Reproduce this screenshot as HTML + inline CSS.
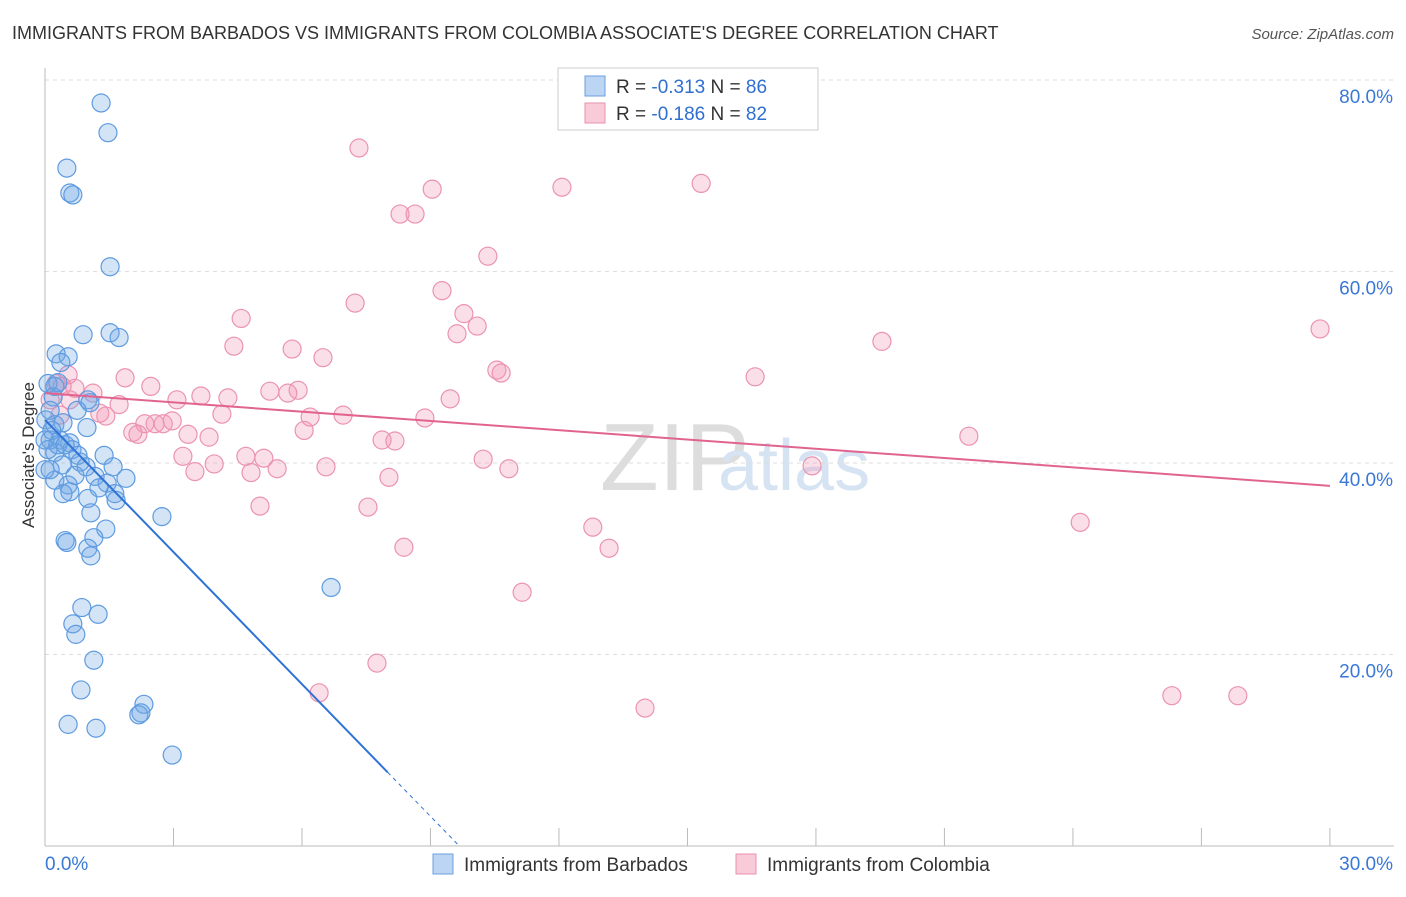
<!DOCTYPE html>
<html><head><meta charset="utf-8"><style>
body{margin:0;background:#fff;font-family:"Liberation Sans",sans-serif}
svg text{font-family:"Liberation Sans",sans-serif}
</style></head><body>
<svg id="c" width="1406" height="892">
<text x="12" y="39" font-size="18" fill="#333">IMMIGRANTS FROM BARBADOS VS IMMIGRANTS FROM COLOMBIA ASSOCIATE'S DEGREE CORRELATION CHART</text>
<text x="1394" y="39" font-size="15" fill="#555" text-anchor="end" font-style="italic">Source: ZipAtlas.com</text>
<text x="600" y="490" font-size="96" fill="#ddd" font-family="Liberation Serif">ZIP</text>
<text x="718" y="490" font-size="72" fill="#d6e3f3">atlas</text>
<text x="34" y="455" font-size="17" fill="#333" text-anchor="middle" transform="rotate(-90 34 455)">Associate's Degree</text>
<g id="grid"></g><g id="pts"></g><g id="lines"></g>
<g>
<rect x="558" y="68" width="260" height="62" fill="#fff" stroke="#ccc"/>
<rect x="585" y="76" width="20" height="20" fill="#bcd5f3" stroke="#6a9fe0"/>
<rect x="585" y="103" width="20" height="20" fill="#f9cbd8" stroke="#e890ac"/>
<text x="616" y="93" font-size="19" fill="#333">R = <tspan fill="#2f6fd0">-0.313</tspan>   N = <tspan fill="#2f6fd0">86</tspan></text>
<text x="616" y="120" font-size="19" fill="#333">R = <tspan fill="#2f6fd0">-0.186</tspan>   N = <tspan fill="#2f6fd0">82</tspan></text>
</g>
<g>
<rect x="433" y="854" width="20" height="20" fill="#bcd5f3" stroke="#6a9fe0"/>
<text x="464" y="871" font-size="19" fill="#333">Immigrants from Barbados</text>
<rect x="736" y="854" width="20" height="20" fill="#f9cbd8" stroke="#e890ac"/>
<text x="767" y="871" font-size="19" fill="#333">Immigrants from Colombia</text>
</g>
</svg>
<script>
const blueX=[1.31,1.47,0.51,0.58,0.65,1.52,0.89,1.52,1.73,0.26,0.54,0.37,0.07,0.23,0.30,0.19,1.00,1.05,0.12,0.75,0.02,0.23,0.42,0.98,0.12,0.35,0.58,0.63,0.23,0.77,1.38,0.82,0.40,0.96,1.59,0.70,1.17,1.89,0.23,1.45,0.54,1.26,0.58,0.42,1.63,1.66,1.00,1.07,2.73,1.42,0.47,0.51,1.14,1.00,1.07,6.68,0.86,1.24,0.65,0.72,1.14,0.84,2.31,2.24,2.19,0.54,1.19,2.97,0,0.07,0.16,0,0.30,0.12,0.47];
const blueY=[77.6,74.5,70.8,68.2,68.0,60.5,53.4,53.6,53.1,51.4,51.1,50.5,48.3,48.0,48.4,46.9,46.6,46.3,45.5,45.5,44.5,44.0,44.2,43.7,42.4,42.4,42.1,41.4,41.1,40.8,40.8,40.1,39.8,39.6,39.6,38.7,38.6,38.4,38.2,37.9,37.7,37.4,37.0,36.8,36.8,36.1,36.3,34.8,34.4,33.1,31.9,31.7,32.2,31.1,30.3,27.0,24.9,24.2,23.2,22.1,19.4,16.3,14.8,13.9,13.7,12.7,12.3,9.5,39.3,41.4,43.4,42.4,41.9,39.3,41.9];
const pinkX=[7.33,12.07,15.32,9.04,8.29,8.64,10.34,9.27,7.24,9.78,10.09,9.62,4.58,4.41,5.77,6.49,19.54,29.77,10.55,10.65,16.58,1.87,2.47,5.25,5.91,5.67,3.64,4.27,3.08,9.46,1.73,0.26,0.54,0.70,0.40,1.12,1.28,1.42,4.13,6.19,6.96,8.87,2.33,2.57,2.76,2.97,2.05,2.17,3.34,3.83,6.05,7.87,8.17,21.57,3.22,4.69,5.11,10.23,3.95,5.42,6.56,10.83,17.91,3.50,4.81,8.03,5.02,7.54,24.17,12.79,8.38,13.17,11.14,7.75,6.40,14.01,26.31,27.85,0.35,0.12,0.58];
const pinkY=[72.9,68.8,69.2,68.6,66.0,66.0,61.6,58.0,56.7,55.6,54.3,53.5,55.1,52.2,51.9,51.0,52.7,54.0,49.7,49.4,49.0,48.9,48.0,47.5,47.6,47.3,47.0,46.8,46.6,46.7,46.1,48.3,49.2,47.8,48.0,47.3,45.2,44.9,45.1,44.8,45.0,44.7,44.1,44.1,44.1,44.4,43.2,43.0,43.0,42.7,43.4,42.4,42.3,42.8,40.7,40.7,40.5,40.4,39.9,39.4,39.6,39.4,39.7,39.1,39.0,38.5,35.5,35.4,33.8,33.3,31.2,31.1,26.5,19.1,16.0,14.4,15.7,15.7,45.0,46.6,46.6];
const blueTrend=[44.5,-4.6];   // intercept, slope per %
const pinkTrend=[47.3,-0.323];
const yTicks=[20,40,60,80];
const xTicks=[0,3,6,9,12,15,18,21,24,27,30];
const NS='http://www.w3.org/2000/svg';
const sx=v=>45+v*42.83, sy=v=>846-v*9.575;
function mk(tag,attrs,parent){const e=document.createElementNS(NS,tag);for(const k in attrs)e.setAttribute(k,attrs[k]);parent.appendChild(e);return e;}
const grid=document.getElementById('grid');
yTicks.forEach(t=>{
 const l=mk('line',{x1:45,x2:1394,y1:sy(t),y2:sy(t),stroke:'#ddd','stroke-dasharray':'4 4'},grid);
 
 
 const tx=mk('text',{x:1393,y:sy(t)+23,'font-size':19,fill:'#3a78d6','text-anchor':'end'},grid);
 tx.textContent=t.toFixed(1)+'%';
 
 
});
mk('line',{x1:45,x2:45,y1:68,y2:846,stroke:'#bbb'},grid);
mk('line',{x1:45,x2:1394,y1:846,y2:846,stroke:'#bbb'},grid);
xTicks.forEach(t=>{const l=mk('line',{x1:sx(t),x2:sx(t),y1:828,y2:846,stroke:'#bbb'},grid);
 
 });
const x0=mk('text',{x:45,y:870,'font-size':19,fill:'#3a78d6'},grid);x0.textContent='0.0%';


const x1=mk('text',{x:1393,y:870,'font-size':19,fill:'#3a78d6','text-anchor':'end'},grid);x1.textContent='30.0%';


const pts=document.getElementById('pts');
pinkX.forEach((v,i)=>{const c=mk('circle',{cx:sx(v),cy:sy(pinkY[i]),r:9,fill:'rgba(243,150,180,0.3)',stroke:'#eb93b0','stroke-width':1.2},pts);
 
 });
blueX.forEach((v,i)=>{const c=mk('circle',{cx:sx(v),cy:sy(blueY[i]),r:9,fill:'rgba(110,165,230,0.3)',stroke:'#5e9be0','stroke-width':1.2},pts);
 
 });
const lines=document.getElementById('lines');
const pl=mk('line',{x1:sx(0),y1:sy(pinkTrend[0]),x2:sx(30),y2:sy(pinkTrend[0]+30*pinkTrend[1]),stroke:'#e0648f','stroke-width':2},lines);


const bEnd=8.0, bZero=-blueTrend[0]/blueTrend[1];
const bl=mk('line',{x1:sx(0),y1:sy(blueTrend[0]),x2:sx(bEnd),y2:sy(blueTrend[0]+bEnd*blueTrend[1]),stroke:'#2f73d6','stroke-width':2},lines);


const bd=mk('line',{x1:sx(bEnd),y1:sy(blueTrend[0]+bEnd*blueTrend[1]),x2:sx(bZero),y2:sy(0),stroke:'#2f73d6','stroke-width':1,'stroke-dasharray':'4 4'},lines);


</script>
</body></html>
